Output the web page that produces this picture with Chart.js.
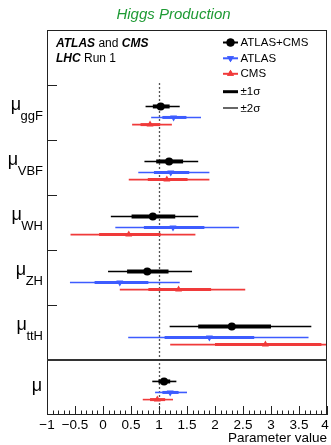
<!DOCTYPE html>
<html><head><meta charset="utf-8">
<script src="https://cdn.jsdelivr.net/npm/chart.js@4"></script>
<style>html,body{margin:0;padding:0;background:#fff}</style>
</head><body>
<canvas id="c" width="331" height="445"></canvas>
<script>
// ---- data ----
const categories = ['ggF', 'VBF', 'WH', 'ZH', 'ttH', ''];
const seriesNames = ['ATLAS+CMS', 'ATLAS', 'CMS'];

const combinedValue = [1.03, 1.18, 0.89, 0.79, 2.30, 1.09];
const combined1sLo  = [0.89, 0.95, 0.51, 0.43, 1.70, 0.99];
const combined1sHi  = [1.19, 1.43, 1.29, 1.17, 3.00, 1.20];
const combined2sLo  = [0.76, 0.74, 0.14, 0.09, 1.19, 0.88];
const combined2sHi  = [1.37, 1.70, 1.70, 1.59, 3.72, 1.31];

const atlasValue = [1.26, 1.21, 1.25, 0.30, 1.90, 1.20];
const atlas1sLo  = [1.06, 0.91, 0.73, -0.15, 1.10, 1.06];
const atlas1sHi  = [1.49, 1.54, 1.81, 0.81, 2.70, 1.35];
const atlas2sLo  = [0.86, 0.63, 0.22, -0.59, 0.45, 0.93];
const atlas2sHi  = [1.75, 1.90, 2.43, 1.37, 3.67, 1.50];

const cmsValue = [0.84, 1.14, 0.46, 1.35, 2.90, 0.97];
const cms1sLo  = [0.67, 0.80, -0.07, 0.81, 2.00, 0.84];
const cms1sHi  = [1.02, 1.51, 1.03, 1.93, 3.90, 1.11];
const cms2sLo  = [0.52, 0.46, -0.58, 0.30, 1.20, 0.71];
const cms2sHi  = [1.23, 1.90, 1.65, 2.54, 5.00, 1.25];

const xTickValues = [-1, -0.5, 0, 0.5, 1, 1.5, 2, 2.5, 3, 3.5, 4];
const xTickLabels = ['\u22121', '\u22120.5', '0', '0.5', '1', '1.5', '2', '2.5', '3', '3.5', '4'];

// ---- styles ----
const styles = [
  {color: '#000000', off: 0.39, thick: 4, thin: 1.6, point: 'circle', r: 4, rot: 0},
  {color: '#3d5cff', off: 0.59, thick: 3, thin: 1.6, point: 'triangle', r: 4, rot: 180},
  {color: '#f03a3a', off: 0.72, thick: 3, thin: 1.6, point: 'triangle', r: 4, rot: 0}
];
const seriesData = [
  {v: combinedValue, a: combined1sLo, b: combined1sHi, c: combined2sLo, d: combined2sHi},
  {v: atlasValue, a: atlas1sLo, b: atlas1sHi, c: atlas2sLo, d: atlas2sHi},
  {v: cmsValue, a: cms1sLo, b: cms1sHi, c: cms2sLo, d: cms2sHi}
];

const SANS = '"Liberation Sans", Arial, Helvetica, sans-serif';

const errorBars = {
  id: 'errorBars',
  beforeDatasetsDraw(chart) {
    const {ctx, chartArea: ca, scales: {x, y}} = chart;
    ctx.save();
    ctx.beginPath();
    ctx.rect(ca.left, ca.top, ca.right - ca.left, ca.bottom - ca.top);
    ctx.clip();
    // dotted SM line
    ctx.setLineDash([2, 2]);
    ctx.strokeStyle = '#555';
    ctx.lineWidth = 1.3;
    ctx.beginPath();
    const xs = Math.round(x.getPixelForValue(1)) + 0.5;
    ctx.moveTo(xs, y.getPixelForValue(1) - 2);
    ctx.lineTo(xs, ca.bottom);
    ctx.stroke();
    ctx.setLineDash([]);
    seriesData.forEach((s, si) => {
      const st = styles[si];
      ctx.strokeStyle = st.color;
      s.v.forEach((val, i) => {
        const py = y.getPixelForValue(i + 1 + st.off);
        ctx.lineWidth = st.thin;
        ctx.beginPath();
        ctx.moveTo(x.getPixelForValue(s.c[i]), py);
        ctx.lineTo(x.getPixelForValue(s.d[i]), py);
        ctx.stroke();
        ctx.lineWidth = st.thick;
        ctx.beginPath();
        ctx.moveTo(x.getPixelForValue(s.a[i]), py);
        ctx.lineTo(x.getPixelForValue(s.b[i]), py);
        ctx.stroke();
      });
    });
    ctx.restore();
  },
  afterDraw(chart) {
    const {ctx, chartArea: ca, scales: {x, y}} = chart;
    ctx.save();
    // frame
    ctx.strokeStyle = '#222';
    ctx.lineWidth = 1;
    ctx.strokeRect(ca.left + 0.5, ca.top + 0.5, ca.right - ca.left - 1, ca.bottom - ca.top - 1);
    // separator
    ctx.lineWidth = 2;
    ctx.strokeStyle = '#333';
    ctx.beginPath();
    const ys = y.getPixelForValue(6);
    ctx.moveTo(ca.left, ys); ctx.lineTo(ca.right, ys);
    ctx.stroke();
    // left ticks
    ctx.lineWidth = 1;
    ctx.strokeStyle = '#222';
    for (let i = 1; i <= 5; i++) {
      const py = Math.round(y.getPixelForValue(i)) + 0.5;
      ctx.beginPath(); ctx.moveTo(ca.left, py); ctx.lineTo(ca.left + 10, py); ctx.stroke();
    }
    // bottom ticks
    for (let k = -10; k <= 40; k++) {
      const px = Math.round(x.getPixelForValue(k / 10)) + 0.5;
      const len = (k % 5 === 0) ? 9 : 4.5;
      ctx.beginPath(); ctx.moveTo(px, ca.bottom); ctx.lineTo(px, ca.bottom - len); ctx.stroke();
    }
    // tick labels
    ctx.fillStyle = '#000';
    ctx.font = '13.5px ' + SANS;
    ctx.textAlign = 'center';
    ctx.textBaseline = 'middle';
    xTickValues.forEach((v, i) => {
      let px = x.getPixelForValue(v);
      if (i === xTickValues.length - 1) px -= 2;
      ctx.fillText(xTickLabels[i], px, 425);
    });
    ctx.textAlign = 'right';
    ctx.fillText('Parameter value', ca.right, 438);
    // y labels
    ctx.textBaseline = 'alphabetic';
    ctx.textAlign = 'right';
    categories.forEach((cat, i) => {
      const py = y.getPixelForValue(i + 1 + 0.5);
      const rx = 43;
      if (cat) {
        ctx.font = '13px ' + SANS;
        const w = ctx.measureText(cat).width;
        ctx.fillText(cat, rx, py + 7.5);
        ctx.font = '18px ' + SANS;
        ctx.fillText('\u03bc', rx - w + 0.5, py - 3);
      } else {
        ctx.font = '18px ' + SANS;
        ctx.fillText('\u03bc', 42, py + 3);
      }
    });
    // title
    ctx.fillStyle = '#1e9a34';
    ctx.font = 'italic 15px ' + SANS;
    ctx.textAlign = 'center';
    ctx.textBaseline = 'middle';
    ctx.fillText('Higgs Production', 173.5, 15);
    // experiment label
    ctx.fillStyle = '#000';
    ctx.textAlign = 'left';
    let tx = 56;
    const parts1 = [['bold italic 12px ', 'ATLAS'], ['12px ', ' and '], ['bold italic 12px ', 'CMS']];
    parts1.forEach(p => { ctx.font = p[0] + SANS; ctx.fillText(p[1], tx, 43.5); tx += ctx.measureText(p[1]).width; });
    tx = 56;
    const parts2 = [['bold italic 12px ', 'LHC'], ['12px ', ' Run 1']];
    parts2.forEach(p => { ctx.font = p[0] + SANS; ctx.fillText(p[1], tx, 58.5); tx += ctx.measureText(p[1]).width; });
    // legend
    const lx0 = 223, lx1 = 238, ltx = 240.5;
    const ly = [42.5, 58.3, 73.8, 91.7, 108];
    ctx.font = '11.5px ' + SANS;
    styles.forEach((st, i) => {
      ctx.strokeStyle = st.color; ctx.fillStyle = st.color; ctx.lineWidth = 2;
      ctx.beginPath(); ctx.moveTo(lx0, ly[i]); ctx.lineTo(lx1, ly[i]); ctx.stroke();
      Chart.helpers.drawPoint(ctx, {pointStyle: st.point, radius: st.r, rotation: st.rot, borderWidth: 0}, (lx0 + lx1) / 2, ly[i]);
      ctx.fill();
      ctx.fillStyle = '#000';
      ctx.fillText(seriesNames[i], ltx, ly[i] + 0.5);
    });
    ctx.strokeStyle = '#000';
    ctx.lineWidth = 3;
    ctx.beginPath(); ctx.moveTo(lx0, ly[3]); ctx.lineTo(lx1, ly[3]); ctx.stroke();
    ctx.lineWidth = 1.2;
    ctx.beginPath(); ctx.moveTo(lx0, ly[4]); ctx.lineTo(lx1, ly[4]); ctx.stroke();
    ctx.fillStyle = '#000';
    ctx.fillText('\u00b11\u03c3', ltx, ly[3] + 0.5);
    ctx.fillText('\u00b12\u03c3', ltx, ly[4] + 0.5);
    ctx.restore();
  }
};

const datasets = seriesData.map((s, si) => ({
  label: seriesNames[si],
  data: s.v.map((val, i) => ({x: val, y: i + 1 + styles[si].off})),
  backgroundColor: styles[si].color,
  borderColor: styles[si].color,
  borderWidth: 0,
  pointStyle: styles[si].point,
  pointRadius: styles[si].r,
  rotation: styles[si].rot,
  clip: 0
}));

new Chart(document.getElementById('c'), {
  type: 'scatter',
  data: {datasets},
  options: {
    responsive: false,
    animation: false,
    devicePixelRatio: 1,
    layout: {padding: {left: 47, right: 3, top: 30, bottom: 30}},
    scales: {
      x: {type: 'linear', min: -1, max: 4, display: false},
      y: {type: 'linear', min: 0, max: 7, reverse: true, display: false}
    },
    plugins: {legend: {display: false}, tooltip: {enabled: false}}
  },
  plugins: [errorBars]
});
</script>
</body></html>
